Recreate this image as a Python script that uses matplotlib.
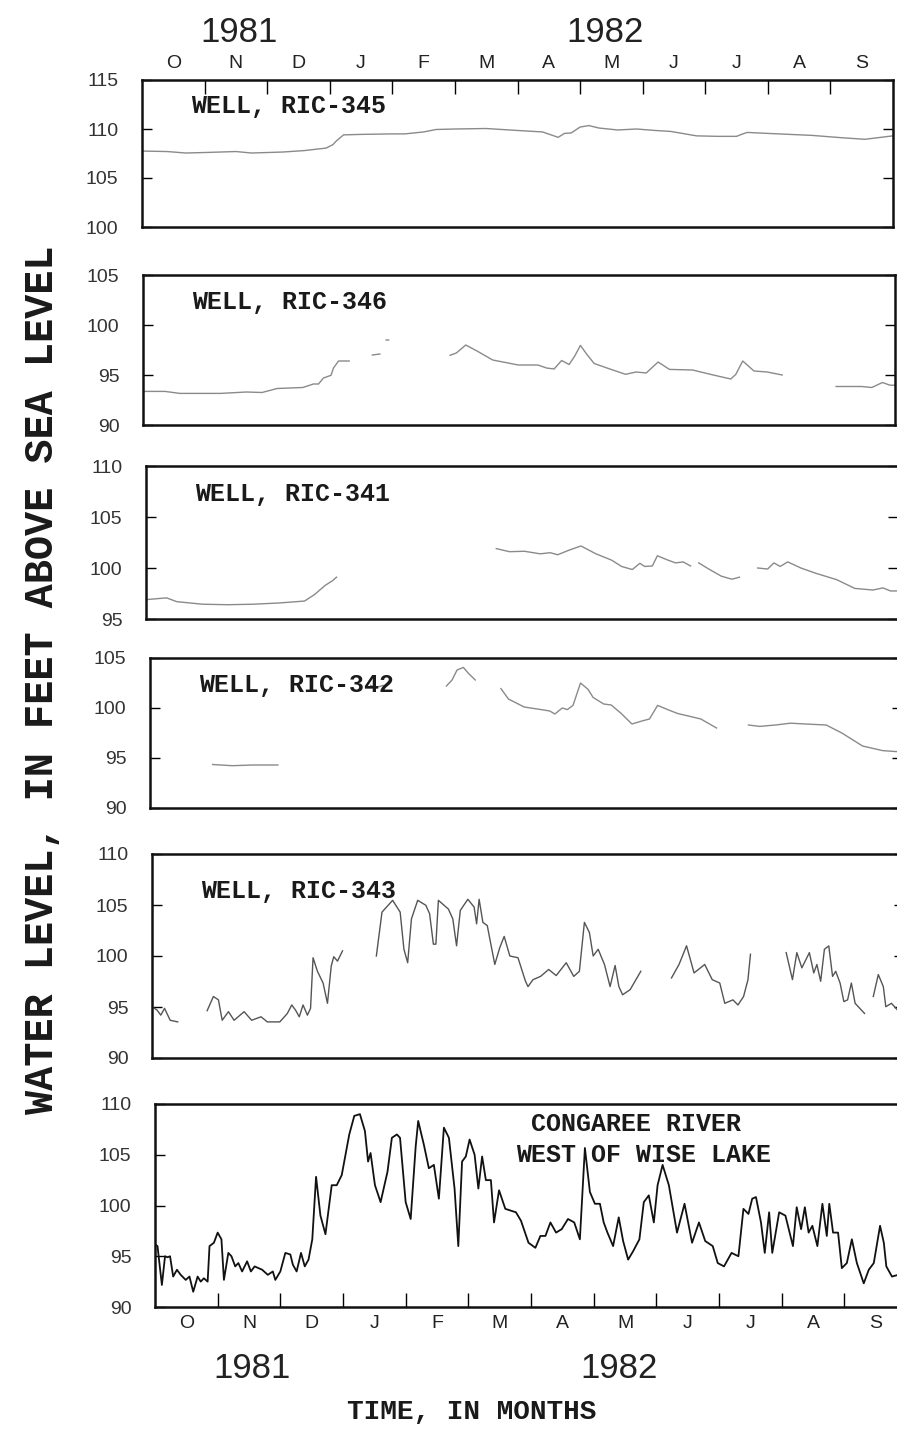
import numpy as np
import matplotlib
matplotlib.use('Agg')
import matplotlib.pyplot as plt
import matplotlib.transforms as mtransforms

# --- data: x in months from 1 Oct 1981 (equal-width months), water level in feet ---
months = ["O", "N", "D", "J", "F", "M", "A", "M", "J", "J", "A", "S"]

ric345_x = [0, 0.4, 0.7, 1.0, 1.5, 1.75, 2.25, 2.6, 2.8, 2.94, 3.05, 3.1, 3.22, 3.5, 4.0,
            4.2, 4.5, 4.7, 5.0, 5.5, 6.0, 6.4, 6.65, 6.75, 6.86, 7.0, 7.14, 7.3, 7.6, 7.9,
            8.2, 8.45, 8.86, 9.2, 9.5, 9.6, 9.67, 10.0, 10.7, 11.2, 11.55, 12.0]
ric345_y = [107.75, 107.7, 107.55, 107.6, 107.7, 107.55, 107.65, 107.8, 107.95, 108.05,
            108.4, 108.75, 109.4, 109.45, 109.5, 109.5, 109.7, 109.95, 110.0, 110.05,
            109.85, 109.7, 109.15, 109.55, 109.6, 110.2, 110.35, 110.1, 109.9, 110.0,
            109.85, 109.75, 109.3, 109.25, 109.25, 109.5, 109.65, 109.55, 109.35, 109.1,
            108.95, 109.3]

ric346_x = [0, 0.35, 0.59, 1.24, 1.65, 1.9, 2.14, 2.55, 2.72, 2.8, 2.88, 3.0, 3.04, 3.12, 3.29, None,
            3.66, 3.78, None, 3.88, 3.92, None,
            4.9, 5.0, 5.15, 5.33, 5.58, 5.99, 6.3, 6.44, 6.56, 6.68, 6.8, 6.89, 6.98, 7.09, 7.2,
            7.45, 7.7, 7.87, 8.03, 8.22, 8.4, 8.77, 9.1, 9.38, 9.46, 9.57, 9.75, 9.96, 10.2, None,
            11.06, 11.47, 11.63, 11.8, 11.92, 12.0]
ric346_y = [93.36, 93.36, 93.16, 93.16, 93.3, 93.25, 93.65, 93.75, 94.1, 94.1, 94.7, 94.97, 95.7, 96.4, 96.4, None,
            97.0, 97.1, None, 98.5, 98.5, None,
            96.97, 97.2, 98.0, 97.4, 96.5, 96.0, 96.0, 95.7, 95.6, 96.45, 96.05, 96.9, 97.96, 97.0, 96.15,
            95.6, 95.07, 95.3, 95.2, 96.3, 95.56, 95.5, 95.0, 94.6, 95.07, 96.4, 95.4, 95.3, 95.0, None,
            93.85, 93.85, 93.75, 94.25, 93.98, 93.98]

ric341_x = [0, 0.33, 0.49, 0.9, 1.3, 1.71, 2.12, 2.53, 2.69, 2.86, 2.98, 3.04, None,
            5.59, 5.8, 6.04, 6.29, 6.45, 6.57, 6.73, 6.94, 7.18, 7.43, 7.59, 7.76, 7.88, 7.96,
            8.08, 8.16, 8.33, 8.45, 8.57, 8.69, None,
            8.82, 8.98, 9.18, 9.35, 9.47, None,
            9.76, 9.92, 10.02, 10.12, 10.24, 10.45, 10.69, 11.02, 11.31, 11.6, 11.76, 11.88, 12.0]
ric341_y = [96.9, 97.07, 96.7, 96.45, 96.4, 96.45, 96.57, 96.76, 97.4, 98.3, 98.77, 99.1, None,
            101.9, 101.6, 101.64, 101.39, 101.5, 101.3, 101.7, 102.16, 101.39, 100.77, 100.15,
            99.85, 100.46, 100.15, 100.2, 101.2, 100.77, 100.5, 100.6, 100.2, None,
            100.5, 99.9, 99.2, 98.9, 99.1, None,
            100.0, 99.9, 100.5, 100.15, 100.6, 100.0, 99.48, 98.86, 98.0, 97.84, 98.05, 97.75, 97.75]

ric342_x = [1.0, 1.31, 1.64, 2.04, None,
            3.52, 3.6, 3.72, None,
            4.73, 4.82, 4.9, 5.0, 5.08, 5.19, None,
            5.6, 5.72, 5.97, 6.21, 6.38, 6.46, 6.58, 6.66, 6.75, 6.87, 6.99, 7.07, 7.24, 7.36,
            7.52, 7.69, 7.85, 7.97, 8.1, 8.26, 8.42, 8.59, 8.79, 9.04, None,
            9.55, 9.73, 9.98, 10.22, 10.46, 10.79, 11.04, 11.37, 11.69, 12.0]
ric342_y = [94.35, 94.23, 94.3, 94.3, None,
            102.26, 102.03, 102.26, None,
            102.2, 102.8, 103.8, 104.06, 103.48, 102.8, None,
            101.94, 100.9, 100.1, 99.87, 99.7, 99.4, 100.0, 99.84, 100.26, 102.5, 101.87, 101.06,
            100.4, 100.3, 99.45, 98.4, 98.7, 98.9, 100.26, 99.84, 99.45, 99.2, 98.9, 98.0, None,
            98.3, 98.16, 98.3, 98.48, 98.4, 98.3, 97.5, 96.2, 95.74, 95.6]

ric343_x = [0, 0.08, 0.14, 0.2, 0.29, 0.41, None,
            0.88, 0.98, 1.06, 1.12, 1.22, 1.31, 1.47, 1.59, 1.74, 1.84, 2.04, 2.16, 2.23, 2.29,
            2.35, 2.41, 2.48, 2.53, 2.57, 2.64, 2.73, 2.8, 2.86, 2.9, 2.96, 3.04, None,
            3.58, 3.67, 3.84, 3.96, 4.02, 4.08, 4.14, 4.24, 4.37, 4.43, 4.49, 4.53, 4.57, 4.73,
            4.8, 4.86, 4.92, 5.04, 5.14, 5.18, 5.22, 5.28, 5.35, 5.47, 5.55, 5.62, 5.71, 5.84,
            5.96, 6.0, 6.08, 6.2, 6.33, 6.45, 6.61, 6.73, 6.82, 6.9, 6.98, 7.04, 7.12, 7.22,
            7.31, 7.39, 7.45, 7.51, 7.63, 7.8, None,
            8.29, 8.41, 8.53, 8.65, 8.82, 8.94, 9.06, 9.14, 9.27, 9.35, 9.44, 9.51, 9.55, None,
            10.12, 10.22, 10.29, 10.37, 10.49, 10.56, 10.61, 10.67, 10.73, 10.8, 10.86, 10.91,
            10.98, 11.04, 11.1, 11.16, 11.22, 11.37, None,
            11.51, 11.59, 11.67, 11.71, 11.8, 11.92, 12.0]
ric343_y = [95.03, 94.7, 94.2, 94.87, 93.7, 93.54, None,
            94.64, 96.03, 95.7, 93.7, 94.54, 93.7, 94.54, 93.7, 94.04, 93.54, 93.54, 94.37,
            95.2, 94.7, 94.04, 95.2, 94.2, 94.87, 99.83, 98.5, 97.35, 95.36, 99.0, 99.93, 99.5,
            100.5, None,
            100.0, 104.3, 105.46, 104.3, 100.66, 99.34, 103.64, 105.46, 104.97, 104.14, 101.16,
            101.16, 105.46, 104.6, 103.64, 101.0, 104.47, 105.56, 104.8, 103.15, 105.56, 103.3,
            102.98, 99.17, 100.83, 101.92, 100.0, 99.83, 97.52, 97.0, 97.68, 98.0, 98.68, 98.08,
            99.34, 98.0, 98.5, 103.3, 102.3, 100.0, 100.66, 99.17, 97.0, 99.07, 97.0, 96.2, 96.7,
            98.5, None,
            97.85, 99.17, 101.0, 98.34, 99.17, 97.68, 97.35, 95.36, 95.7, 95.2, 96.03, 97.68,
            100.17, None,
            100.33, 97.68, 100.33, 98.84, 100.33, 98.34, 99.17, 97.52, 100.66, 100.99, 98.0,
            98.5, 97.35, 95.53, 95.7, 97.35, 95.36, 94.37, None,
            96.03, 98.18, 97.0, 95.03, 95.36, 94.54, 94.7]

river_x = [0, 0.04, 0.11, 0.16, 0.2, 0.24, 0.29, 0.35, 0.41, 0.49, 0.55, 0.61, 0.68, 0.73,
           0.78, 0.84, 0.87, 0.94, 1.0, 1.06, 1.1, 1.17, 1.22, 1.28, 1.33, 1.39, 1.47, 1.53,
           1.59, 1.71, 1.8, 1.88, 1.92, 2.0, 2.08, 2.16, 2.2, 2.26, 2.33, 2.39, 2.45, 2.51,
           2.57, 2.64, 2.72, 2.82, 2.9, 2.98, 3.1, 3.18, 3.27, 3.35, 3.4, 3.44, 3.51, 3.6,
           3.71, 3.78, 3.86, 3.91, 4.0, 4.08, 4.16, 4.2, 4.29, 4.37, 4.45, 4.53, 4.61, 4.69,
           4.78, 4.84, 4.9, 4.96, 5.02, 5.1, 5.16, 5.22, 5.28, 5.36, 5.41, 5.49, 5.59, 5.76,
           5.84, 5.96, 6.07, 6.15, 6.23, 6.31, 6.4, 6.49, 6.59, 6.69, 6.78, 6.86, 6.94, 7.02,
           7.1, 7.16, 7.22, 7.31, 7.4, 7.47, 7.55, 7.63, 7.73, 7.8, 7.88, 7.96, 8.02, 8.1,
           8.2, 8.33, 8.45, 8.57, 8.68, 8.78, 8.9, 8.98, 9.08, 9.2, 9.31, 9.39, 9.47, 9.53,
           9.59, 9.67, 9.73, 9.8, 9.85, 9.96, 10.06, 10.18, 10.24, 10.31, 10.37, 10.43, 10.49,
           10.57, 10.65, 10.72, 10.76, 10.82, 10.9, 10.96, 11.04, 11.12, 11.2, 11.31, 11.39,
           11.47, 11.57, 11.63, 11.67, 11.76, 11.86, 11.94, 12.0]
river_y = [96.17, 96.0, 92.17, 95.0, 94.9, 95.0, 93.0, 93.67, 93.17, 92.67, 93.0, 91.5, 93.0,
           92.5, 92.83, 92.5, 96.0, 96.33, 97.33, 96.67, 92.67, 95.33, 95.0, 94.0, 94.33, 93.5,
           94.5, 93.5, 94.0, 93.67, 93.17, 93.5, 92.67, 93.5, 95.33, 95.17, 94.17, 93.5, 95.33,
           94.0, 94.67, 96.67, 102.83, 99.0, 97.17, 102.0, 102.0, 103.0, 107.0, 108.83, 109.0,
           107.33, 104.33, 105.17, 102.0, 100.33, 103.33, 106.67, 107.0, 106.67, 100.33, 98.67,
           105.83, 108.33, 106.0, 103.67, 104.0, 100.67, 107.67, 106.67, 101.67, 96.0, 104.33,
           104.83, 106.5, 105.0, 101.67, 104.83, 102.5, 102.5, 98.33, 101.5, 99.67, 99.33, 98.5,
           96.33, 95.83, 97.0, 97.0, 98.33, 97.33, 97.67, 98.67, 98.33, 96.67, 105.67, 101.33,
           100.17, 100.17, 98.33, 97.33, 96.0, 98.83, 96.5, 94.67, 95.5, 96.67, 100.33, 101.0,
           98.33, 102.0, 104.0, 102.0, 97.33, 100.17, 96.33, 98.33, 96.5, 96.0, 94.33, 94.0,
           95.33, 95.0, 99.67, 99.17, 100.67, 100.83, 98.33, 95.33, 99.33, 95.33, 99.33, 99.0,
           96.0, 99.83, 97.67, 99.83, 97.33, 98.0, 96.0, 100.17, 97.0, 100.17, 97.33, 97.33,
           93.83, 94.33, 96.67, 94.33, 92.33, 93.67, 94.33, 98.0, 96.33, 94.0, 93.0, 93.17,
           95.33, 95.0]

# panel setup: (x, y, label, ylim, yticks, box in pixels [left, top, right, bottom], color, lw)
W, H = 897, 1441
panels = [
    (ric345_x, ric345_y, "WELL, RIC-345", (100, 115), [100, 105, 110, 115], (142, 80, 893, 227), "#8a8a8a", 1.0),
    (ric346_x, ric346_y, "WELL, RIC-346", (90, 105), [90, 95, 100, 105], (143, 275, 895, 425), "#8a8a8a", 1.0),
    (ric341_x, ric341_y, "WELL, RIC-341", (95, 110), [95, 100, 105, 110], (146, 466, 898, 619), "#8a8a8a", 1.0),
    (ric342_x, ric342_y, "WELL, RIC-342", (90, 105), [90, 95, 100, 105], (150, 658, 902, 808), "#8a8a8a", 1.0),
    (ric343_x, ric343_y, "WELL, RIC-343", (90, 110), [90, 95, 100, 105, 110], (152, 854, 904, 1058), "#555555", 1.0),
    (river_x, river_y, None, (90, 110), [90, 95, 100, 105, 110], (155, 1104, 907, 1307), "#111111", 1.3),
]

mono = ['Liberation Mono', 'DejaVu Sans Mono']
narrow = ['Liberation Sans Narrow', 'Liberation Sans', 'DejaVu Sans']
sans = ['Liberation Sans', 'DejaVu Sans']

fig = plt.figure(figsize=(W / 100, H / 100), dpi=100)
axes = []
for x, y, label, ylim, yticks, box, color, lw in panels:
    l, t, r, b = box
    ax = fig.add_axes([l / W, 1 - b / H, (r - l) / W, (b - t) / H])
    ax.plot(np.array(x, dtype=float), np.array(y, dtype=float), color=color, linewidth=lw)
    ax.set_xlim(0, 12)
    ax.set_ylim(*ylim)
    ax.set_yticks(yticks)
    ax.set_yticklabels([str(v) for v in yticks], family=narrow, fontsize=14, color="#333333")
    ax.tick_params(axis='y', direction='in', left=True, right=True, length=7, width=1, pad=17)
    ax.set_xticks([])
    for s in ax.spines.values():
        s.set_linewidth(1.8)
        s.set_color("#111111")
    if label:
        ax.text(0.065, 0.82, label, transform=ax.transAxes, family=mono, weight='bold',
                fontsize=18, color="#1a1a1a", va='center', ha='left')
    axes.append(ax)

# month ticks at top of first panel and bottom of last panel
for ax, top in [(axes[0], True), (axes[-1], False)]:
    ax.set_xticks(range(1, 12))
    ax.set_xticklabels([])
    ax.set_xticks([i + 0.5 for i in range(12)], minor=True)
    ax.set_xticklabels(months, minor=True, family=sans, fontsize=14, color="#222222")
    ax.tick_params(axis='x', which='major', direction='in', length=10, width=1,
                   top=top, bottom=not top)
    ax.tick_params(axis='x', which='minor', length=0, top=top, bottom=not top,
                   labeltop=top, labelbottom=not top, pad=6)
    blend = mtransforms.blended_transform_factory(ax.transData, fig.transFigure)
    ys = (1 - 32 / H) if top else (1 - 1368 / H)
    for xm, yr in [(1.55, "1981"), (7.4, "1982")]:
        ax.text(xm, ys, yr, transform=blend, family=narrow, fontsize=25,
                color="#222222", ha='center', va='center')

axes[-1].text(0.64, 0.9, "CONGAREE RIVER", transform=axes[-1].transAxes, family=mono,
              weight='bold', fontsize=18, color="#1a1a1a", ha='center', va='center')
axes[-1].text(0.65, 0.75, "WEST OF WISE LAKE", transform=axes[-1].transAxes, family=mono,
              weight='bold', fontsize=18, color="#1a1a1a", ha='center', va='center')

fig.text(42 / W, 1 - 680 / H, "WATER LEVEL, IN FEET ABOVE SEA LEVEL", rotation=90,
         family=mono, weight='bold', fontsize=29, color="#1a1a1a", ha='center', va='center')
fig.text(472 / W, 1 - 1412 / H, "TIME, IN MONTHS", family=mono, weight='bold',
         fontsize=20, color="#1a1a1a", ha='center', va='center')

fig.savefig("out.png", dpi=100, facecolor="white")
